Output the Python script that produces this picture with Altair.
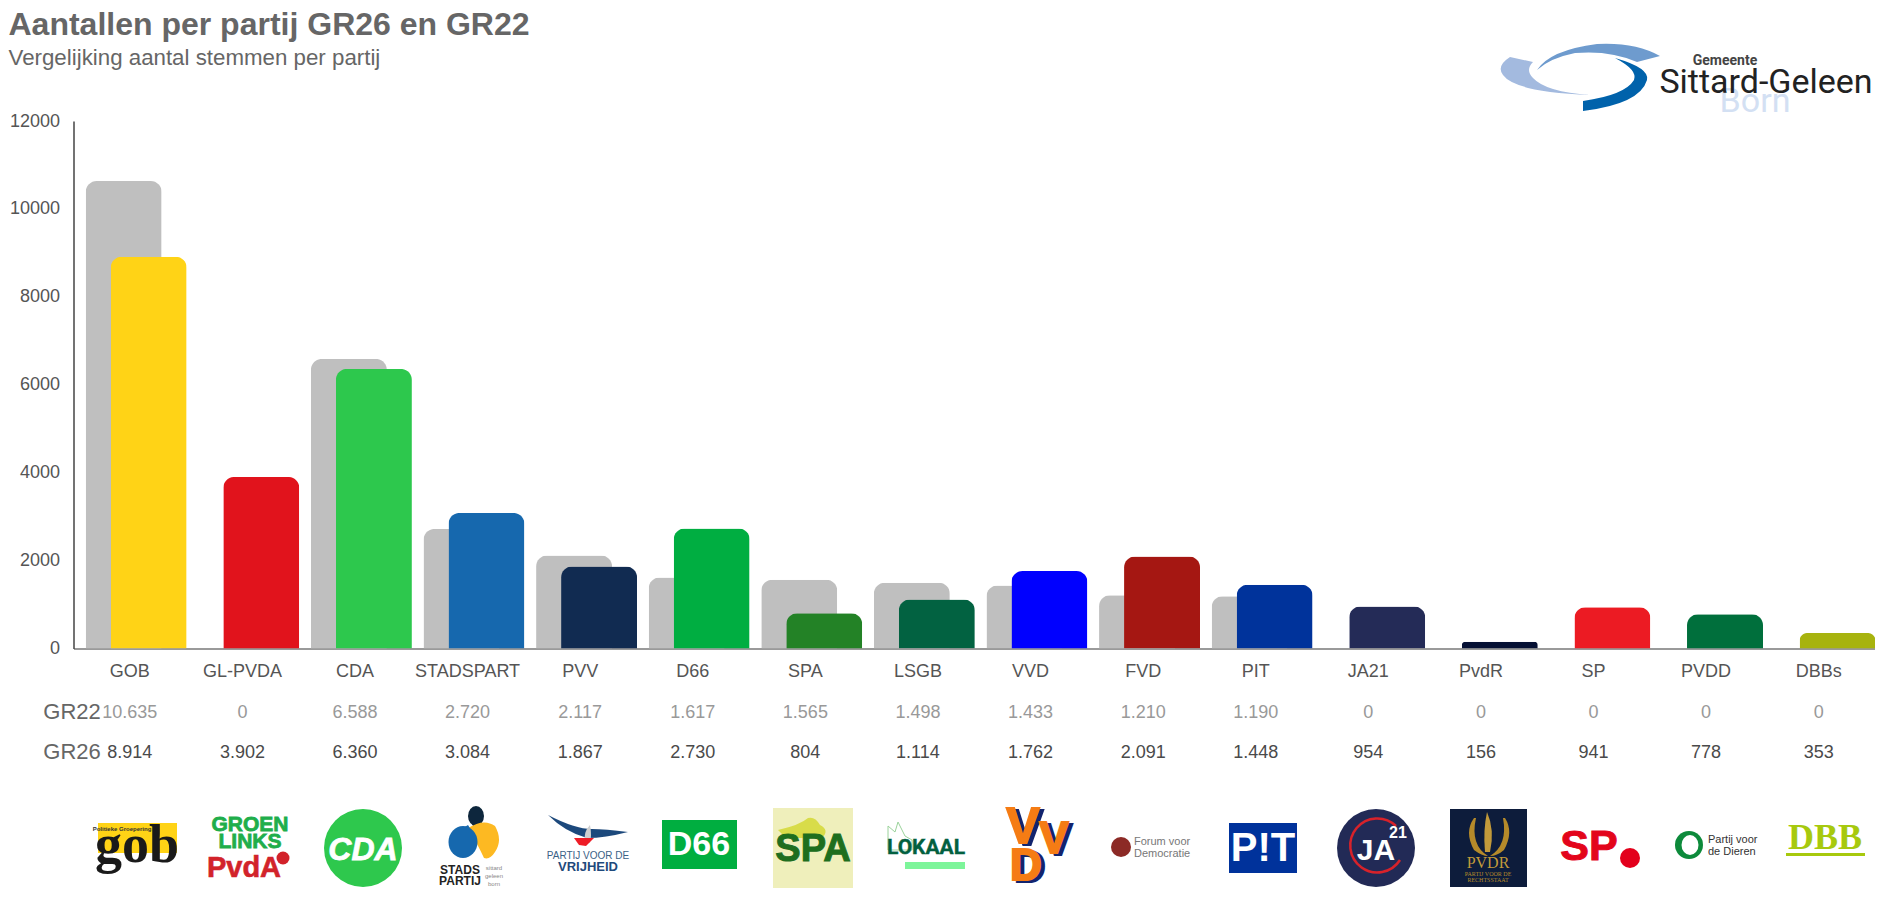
import base64
import altair as alt
import pandas as pd

parties = ["GOB","GL-PVDA","CDA","STADSPART","PVV","D66","SPA","LSGB","VVD","FVD","PIT","JA21","PvdR","SP","PVDD","DBBs"]
gr22 = [10635,0,6588,2720,2117,1617,1565,1498,1433,1210,1190,0,0,0,0,0]
gr26 = [8914,3902,6360,3084,1867,2730,804,1114,1762,2091,1448,954,156,941,778,353]
colors = ["#FFD316","#E1131C","#2DC84D","#1668AE","#112B51","#00AE41","#238226","#026241","#0000FF","#A51712","#00339B","#242B57","#051034","#EC1B23","#006F3C","#A7B30E"]
y_ticks = [0,2000,4000,6000,8000,10000,12000]

FONT = "Liberation Sans"
LEFT, TOP = 73.5, 121.0   # page position of the plot area
W, H = 1801.5, 527.5

def dotted(v):
    return f"{v:,}".replace(",", ".")

df = pd.DataFrame({
    "party": parties, "gr22": gr22, "gr26": gr26, "color": colors,
    "gr22_txt": [dotted(v) for v in gr22], "gr26_txt": [dotted(v) for v in gr26],
})

x = alt.X("party:N", sort=parties, title=None, scale=alt.Scale(paddingInner=0, paddingOuter=0),
          axis=alt.Axis(labelAngle=0, labelFontSize=18, labelColor="#555555", labelFont=FONT, labelPadding=14,
                        labelLimit=0, ticks=False, domainColor="#9a9a9a", domainWidth=2, grid=False))
y = alt.Y("v:Q", title=None, scale=alt.Scale(domain=[0, 12000], nice=False),
          axis=alt.Axis(values=y_ticks, format="d", labelFontSize=18, labelColor="#555555", labelFont=FONT,
                        labelPadding=14, ticks=False, domainColor="#444444", domainWidth=1.5, grid=False))

base = alt.Chart(df)
R = 11
grey = base.transform_calculate(v="datum.gr22").mark_bar(
    width=76, xOffset=-6.1, color="#BFBFBF", cornerRadiusTopLeft=R, cornerRadiusTopRight=R
).encode(x=x, y=y)
col = base.transform_calculate(v="datum.gr26").mark_bar(
    width=76, xOffset=18.9, cornerRadiusTopLeft=R, cornerRadiusTopRight=R
).encode(x=x, y=y, color=alt.Color("color:N", scale=None, legend=None))

row22 = base.mark_text(font=FONT, fontSize=18, color="#999999", baseline="middle").encode(
    x=alt.X("party:N", sort=parties), y=alt.value(713 - TOP), text="gr22_txt:N")
row26 = base.mark_text(font=FONT, fontSize=18, color="#4a4a4a", baseline="middle").encode(
    x=alt.X("party:N", sort=parties), y=alt.value(753 - TOP), text="gr26_txt:N")

# logo artwork (decoration only), drawn in page coordinates
svg = """<svg xmlns="http://www.w3.org/2000/svg" width="1891" height="911" viewBox="0 0 1891 911">
<defs><filter id="b"><feGaussianBlur stdDeviation="0.5"/></filter></defs>
<g filter="url(#b)">
<path d="M1510 57 Q1496 66 1503 75 Q1515 92 1590 95 Q1546 92 1533 78 Q1525 70 1533 62 Z" fill="#A3BADF"/>
<path d="M1537 70 Q1550 50 1597 44 Q1635 42 1660 56 L1637 62 Q1610 50 1575 53 Q1550 58 1537 70 Z" fill="#6E9BCE"/>
<path d="M1615 58 Q1650 68 1647 80 Q1640 104 1583 111 L1583 101 Q1625 95 1634 80 Q1638 70 1615 58 Z" fill="#0062AB"/>
<path d="M98 823 H177 V853 H98 Z" fill="#FFD316"/>
<circle cx="283" cy="858" r="6.5" fill="#D2232A"/>
<circle cx="363" cy="848" r="39" fill="#2DC84D"/>
<ellipse cx="476" cy="816" rx="8" ry="10" fill="#10283C"/>
<path d="M472 824 L477 833 L474 823 Z" fill="#10283C"/>
<path d="M468 828 Q484 818 495 826 Q503 840 495 852 Q490 860 484 858 Q478 845 468 828 Z" fill="#FDB924"/>
<ellipse cx="463" cy="842" rx="14.5" ry="16" fill="#1668AE"/>
<path d="M468 825 L474 835 L460 830 Z" fill="#1668AE"/>
<path d="M548 815 Q565 832 587 838 Q605 838 628 832 Q605 829 592 829 Q575 829 548 815 Z" fill="#1F4A7C"/>
<path d="M585 843 Q583 832 590 825 Q592 835 590 843 Z" fill="#cfcfcf"/>
<path d="M574 838 L594 838 L586 846 L579 845 Z" fill="#EE1C25"/>
<rect x="662" y="820" width="75" height="49" fill="#00AE41"/>
<rect x="773" y="808" width="80" height="80" fill="#EFEFBB"/>
<path d="M778 830 Q800 825 808 818 Q815 816 820 825 Q830 830 822 838 L786 838 Z" fill="#D8DC4A"/>
<path d="M888 826 L895 832 L898 822 L905 836 L912 840 V850 L888 850 Z" fill="none" stroke="#9ad29a" stroke-width="1"/>
<rect x="905" y="862" width="60" height="7" fill="#7DF59A"/>
<circle cx="1121" cy="847" r="10" fill="#8C2A25"/>
<rect x="1229" y="823" width="68" height="50" fill="#00339B"/>
<circle cx="1376" cy="848" r="39" fill="#242B57"/>
<path d="M1396 826 A 27 27 0 1 0 1400 860" fill="none" stroke="#D8232A" stroke-width="2.5"/>
<rect x="1450" y="809" width="77" height="78" fill="#0D1C3A"/>
<path d="M1474 818 Q1464 832 1474 850 Q1482 856 1488 856 Q1470 845 1476 818 Z" fill="#B58A2A"/>
<path d="M1505 818 Q1514 832 1504 850 Q1497 856 1490 856 Q1508 845 1503 818 Z" fill="#B58A2A"/>
<path d="M1487 812 Q1495 830 1490 852 H1485 Q1483 830 1487 812 Z" fill="#C29A3A"/>
<circle cx="1630" cy="858" r="10" fill="#E3051B"/>
<circle cx="1689" cy="845" r="14" fill="#0A8A3A"/>
<ellipse cx="1690" cy="845" rx="8.5" ry="10" fill="#ffffff"/>
<rect x="1786" y="853" width="79" height="3" fill="#A7C90E"/>
</g></svg>"""
uri = "data:image/svg+xml;base64," + base64.b64encode(svg.encode()).decode()
art = alt.Chart(pd.DataFrame({"u": [uri]})).mark_image(
    width=1891, height=911, align="left", baseline="top"
).encode(x=alt.value(-LEFT), y=alt.value(-TOP), url="u:N")

# (text, page x, page y, size, colour, weight, font, align, style, outline)
texts = [
 ("Aantallen per partij GR26 en GR22", 8.5, 25, 32, "#666666", "bold", FONT, "left", "normal", 0),
 ("Vergelijking aantal stemmen per partij", 8.5, 58, 22.3, "#666666", "normal", FONT, "left", "normal", 0),
 ("GR22", 72, 712, 22, "#666666", "normal", FONT, "center", "normal", 0),
 ("GR26", 72, 752, 22, "#666666", "normal", FONT, "center", "normal", 0),
 ("Born", 1755, 102, 34, "#D3E0F3", "normal", "Roboto", "center", "normal", 0),
 ("Gemeente", 1725, 61, 14, "#444444", "bold", "Roboto", "center", "normal", 0),
 ("Sittard-Geleen", 1766, 83, 34, "#222222", "normal", "Roboto", "center", "normal", 0),
 ("gob", 137, 846, 54, "#1a1a1a", "bold", "Liberation Serif", "center", "normal", 0),
 ("Politieke Groepering", 122, 829, 6, "#333333", "bold", FONT, "center", "normal", 0),
 ("GROEN", 250, 825, 21, "#1FAE4B", "bold", FONT, "center", "normal", 0.8),
 ("LINKS", 250, 842, 21, "#1FAE4B", "bold", FONT, "center", "normal", 0.8),
 ("PvdA", 244, 868, 29, "#D2232A", "bold", FONT, "center", "normal", 0.6),
 ("CDA", 363, 850, 32, "#ffffff", "bold", FONT, "center", "italic", 0.8),
 ("STADS", 460, 870, 12, "#222222", "bold", FONT, "center", "normal", 0),
 ("PARTIJ", 460, 881, 12, "#222222", "bold", FONT, "center", "normal", 0),
 ("sittard", 494, 868, 6, "#888888", "normal", FONT, "center", "normal", 0),
 ("geleen", 494, 876, 6, "#888888", "normal", FONT, "center", "normal", 0),
 ("born", 494, 884, 6, "#888888", "normal", FONT, "center", "normal", 0),
 ("PARTIJ VOOR DE", 588, 856, 10, "#3A6186", "normal", FONT, "center", "normal", 0),
 ("VRIJHEID", 588, 867, 13, "#1F4A7C", "bold", FONT, "center", "normal", 0),
 ("D66", 699, 845, 34, "#ffffff", "bold", FONT, "center", "normal", 0),
 ("SPA", 813, 850, 38, "#1E6E1E", "bold", FONT, "center", "normal", 1),
 ("LOKAAL", 926, 848, 21, "#02603F", "bold", "Roboto", "center", "normal", 0.4),
 ("V", 1027, 830, 50, "#12246E", "bold", FONT, "center", "normal", 2),
 ("V", 1023, 828, 50, "#F57C14", "bold", FONT, "center", "normal", 2),
 ("V", 1058, 842, 44, "#12246E", "bold", FONT, "center", "normal", 2),
 ("V", 1054, 840, 44, "#F57C14", "bold", FONT, "center", "normal", 2),
 ("D", 1030, 869, 44, "#12246E", "bold", FONT, "center", "normal", 2),
 ("D", 1026, 867, 44, "#F57C14", "bold", FONT, "center", "normal", 2),
 ("Forum voor", 1134, 842, 11, "#777777", "normal", FONT, "left", "normal", 0),
 ("Democratie", 1134, 854, 11, "#777777", "normal", FONT, "left", "normal", 0),
 ("P!T", 1263, 849, 40, "#ffffff", "bold", FONT, "center", "normal", 0),
 ("JA", 1376, 851, 30, "#ffffff", "bold", FONT, "center", "normal", 0),
 ("21", 1398, 833, 16, "#ffffff", "bold", FONT, "center", "normal", 0),
 ("PVDR", 1488, 863, 16, "#C29A3A", "normal", "Liberation Serif", "center", "normal", 0),
 ("PARTIJ VOOR DE", 1488, 874, 6, "#B58A2A", "normal", "Liberation Serif", "center", "normal", 0),
 ("RECHTSSTAAT", 1488, 880, 6, "#B58A2A", "normal", "Liberation Serif", "center", "normal", 0),
 ("SP", 1589, 847, 43, "#E3051B", "bold", FONT, "center", "normal", 1),
 ("Partij voor", 1708, 840, 11, "#333333", "normal", FONT, "left", "normal", 0),
 ("de Dieren", 1708, 852, 11, "#333333", "normal", FONT, "left", "normal", 0),
 ("DBB", 1825, 838, 36, "#A7C90E", "bold", "Liberation Serif", "center", "normal", 0),
]
dummy = alt.Data(values=[{"a": 1}])
text_layers = [
    alt.Chart(dummy).mark_text(text=t, fontSize=s, color=c, fontWeight=w, font=f, align=a, fontStyle=st,
                               baseline="middle", stroke=c, strokeWidth=o)
    .encode(x=alt.value(px - LEFT), y=alt.value(py - TOP))
    for t, px, py, s, c, w, f, a, st, o in texts
]

chart = alt.layer(grey, col, row22, row26, art, *text_layers).resolve_scale(color="independent").properties(
    width=W, height=H,
    padding={"left": LEFT - 8, "top": TOP - 8, "right": 0, "bottom": 250},
    autosize=alt.AutoSizeParams(type="none"),
    background="white",
).configure_view(stroke=None)

chart.save("out.html", embed_options={"renderer": "svg", "actions": False})
